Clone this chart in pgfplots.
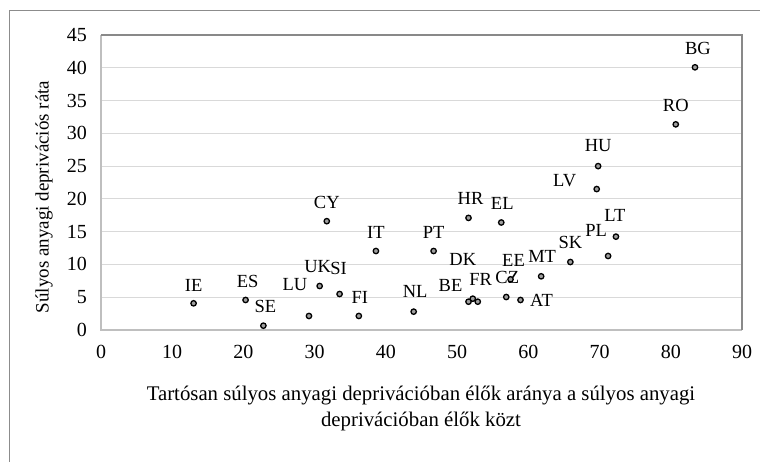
\documentclass[border=0pt]{standalone}
\usepackage{pgfplots}
\pgfplotsset{compat=1.18}
\usepackage{fontspec}
\setmainfont{Liberation Serif}
\definecolor{framegray}{HTML}{8C8C8C}
\definecolor{boxgray}{HTML}{898989}
\definecolor{axgray}{HTML}{BFBFBF}
\definecolor{gridgray}{HTML}{D9D9D9}
\begin{document}
\begin{tikzpicture}[x=1pt,y=1pt]
\useasboundingbox (0,0) rectangle (760,461);
\draw[framegray, line width=1pt] (9,-2) -- (9,450) -- (762,450);
\begin{axis}[
  at={(101pt,131pt)}, anchor=south west,
  scale only axis, width=641pt, height=295pt,
  xmin=0, xmax=90, ymin=0, ymax=45,
  xtick={0,10,...,90}, ytick={0,5,...,45},
  major tick length=0pt,
  axis line style={draw=none},
  ymajorgrids, grid style={gridgray, line width=1.1pt},
  /pgf/number format/assume math mode=true,
  ticklabel style={font=\fontsize{20}{20}\selectfont, inner sep=0pt},
  yticklabel style={anchor=east, xshift=-14pt},
  xticklabel style={anchor=north, yshift=-15pt},
  clip=false,
]
\draw[axgray, line width=1.1pt] (rel axis cs:0,1) -- (rel axis cs:0,0) -- (rel axis cs:1,0);
\draw[boxgray, line width=1.1pt] (rel axis cs:0,1) -- (rel axis cs:1,1) -- (rel axis cs:1,0);
\addplot[only marks, mark=*, mark size=2.7pt,
  mark options={draw=black, fill=gray!75, line width=1.3pt},
  nodes near coords, point meta=explicit symbolic,
  visualization depends on={value \thisrow{dx}\as\dx},
  visualization depends on={value \thisrow{dy}\as\dy},
  every node near coord/.append style={anchor=center, inner sep=0pt,
    xshift=\dx pt, yshift=\dy pt, font=\fontsize{18.5}{18.5}\selectfont, text=black}]
table[x=x, y=y, meta=lab] {
lab x y dx dy
IE 13.0 4.07 0 18
ES 20.3 4.58 2 19
SE 22.8 0.66 2 19
LU 29.2 2.14 -14 31
UK 30.7 6.71 -2 19
SI 33.5 5.49 -1 26
CY 31.7 16.6 0 19
FI 36.2 2.14 1 19
IT 38.6 12.05 0 19
NL 43.9 2.80 1.5 20
PT 46.7 12.05 0 19
HR 51.6 17.1 2 19
EL 56.2 16.4 1 19
LV 69.6 21.5 -32 8
BE 51.6 4.32 -18 16
DK 52.2 4.78 -10 39
FR 52.9 4.32 3 22
CZ 56.9 5.03 1 20
EE 57.5 7.73 3 19
AT 58.9 4.58 21 0
MT 61.8 8.19 1 20
SK 65.9 10.37 0 20
PL 71.2 11.29 -12 26
LT 72.3 14.24 -1 21
HU 69.8 25.0 0 21
RO 80.7 31.37 0 19
BG 83.4 40.07 3 19
};
\end{axis}
\node[rotate=90, anchor=center, font=\fontsize{19}{19}\selectfont] at (44,264) {Súlyos anyagi deprivációs ráta};
\node[anchor=north, align=center, font=\fontsize{20.8}{26}\selectfont, inner sep=0pt] at (421,75) {Tartósan súlyos anyagi deprivációban élők aránya a súlyos anyagi\\deprivációban élők közt};
\end{tikzpicture}
\end{document}
